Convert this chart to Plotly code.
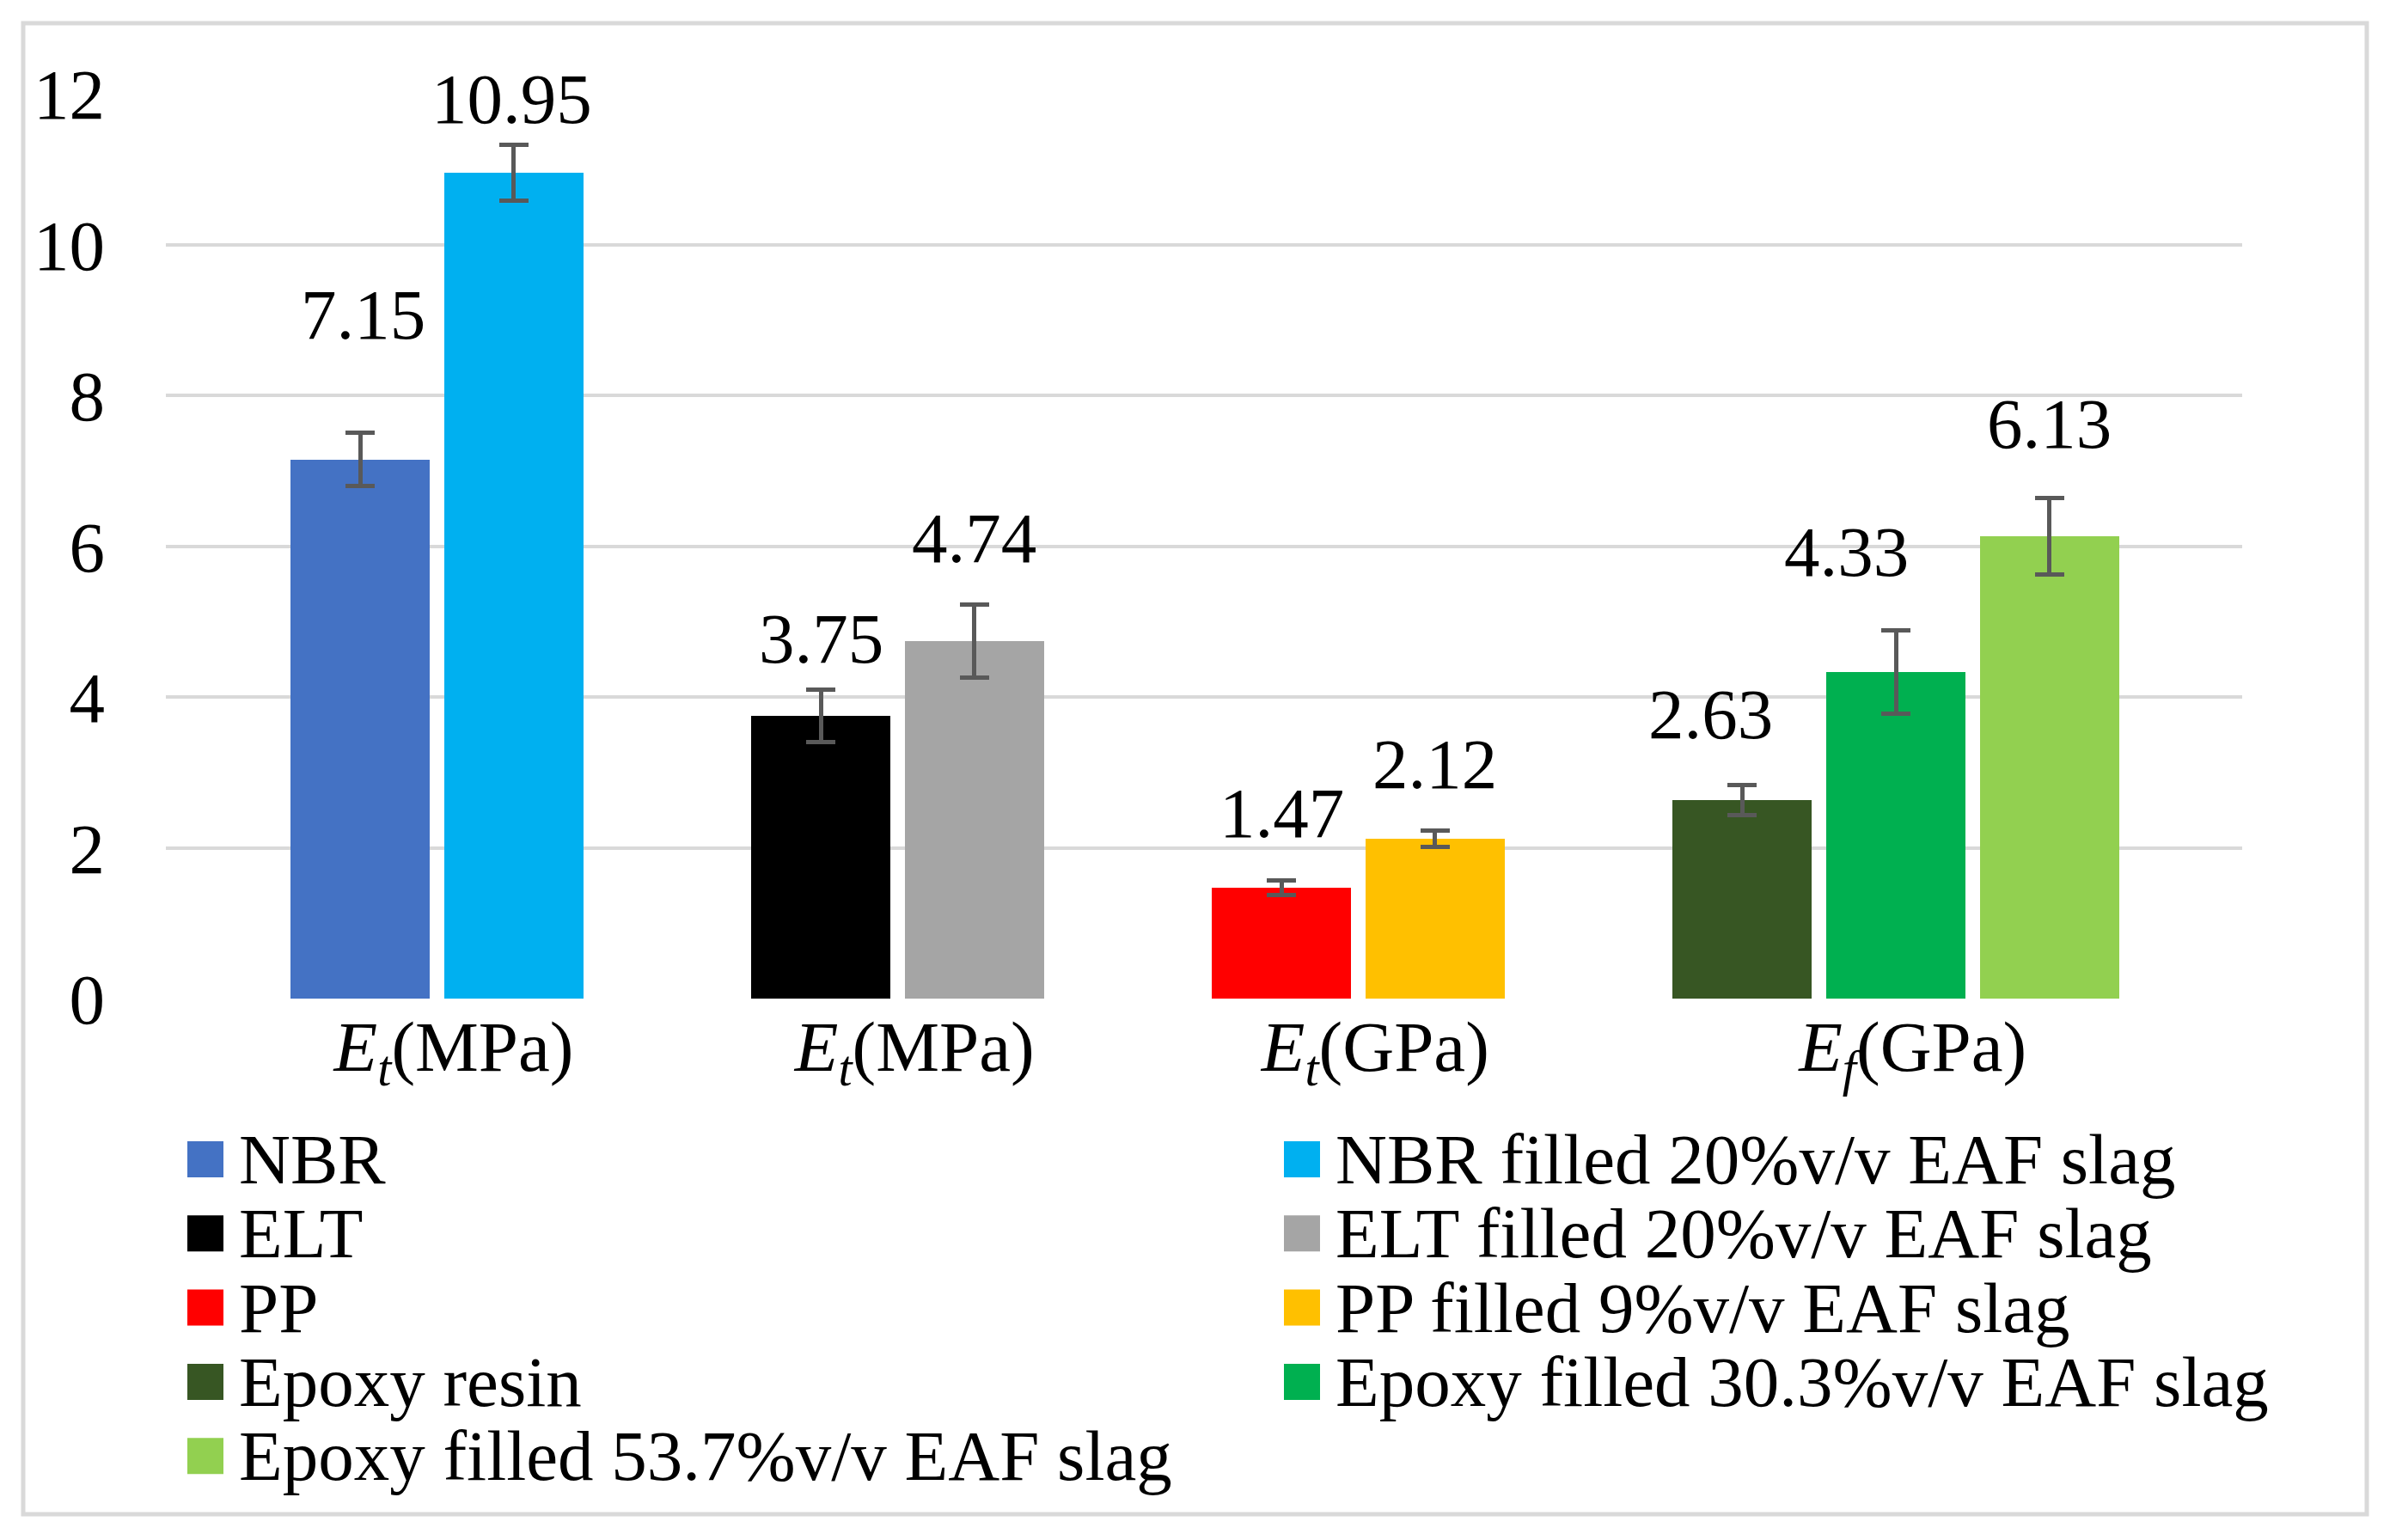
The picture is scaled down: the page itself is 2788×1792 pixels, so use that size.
import plotly.graph_objects as go

# ---------------- data ----------------
category_labels = [
    "<i>E</i><sub><i>t</i></sub>(MPa)",
    "<i>E</i><sub><i>t</i></sub>(MPa)",
    "<i>E</i><sub><i>t</i></sub>(GPa)",
    "<i>E</i><sub><i>f</i></sub>(GPa)",
]
series_names = [
    "NBR",
    "NBR filled 20%v/v EAF slag",
    "ELT",
    "ELT filled 20%v/v EAF slag",
    "PP",
    "PP filled 9%v/v EAF slag",
    "Epoxy resin",
    "Epoxy filled 30.3%v/v EAF slag",
    "Epoxy filled 53.7%v/v EAF slag",
]
series_group = [0, 0, 1, 1, 2, 2, 3, 3, 3]
series_values = [7.15, 10.95, 3.75, 4.74, 1.47, 2.12, 2.63, 4.33, 6.13]
series_errors = [0.35, 0.37, 0.35, 0.48, 0.10, 0.11, 0.20, 0.55, 0.51]
y_ticks = [0, 2, 4, 6, 8, 10, 12]

# ---------------- style ----------------
series_colors = ["#4472C4", "#00B0F0", "#000000", "#A5A5A5", "#FF0000",
                 "#FFC000", "#375623", "#00B050", "#92D050"]
FONT = "Liberation Serif"
FS = 83
W, H = 2788, 1792
PAGE_PAD = 8                                # default body margin of the html page
L, R, T, B = 193, 2609, 109, 1162          # plot area in page px
SLOTS_PER_GROUP = 3
BAR_WIDTH = 0.908
X_RANGE = [-1.265, 12.255]
CAT_LABEL_SHIFT = 0.11                      # category labels sit a bit right of bar groups
# per-label fine placement of the value labels (px)
label_dx_px = [3, -2, 0, 0, 0, 0, -37, -58, 0]
label_dy_px = [138, 54, 59, 78, 78, 77, 83, 92, 86]


def px_x(p):
    return (p - L) / (R - L)


def px_y(p):
    return (B - p) / (B - T)


# slot positions derived from group membership
slots = []
counter = {}
for g in series_group:
    j = counter.get(g, 0)
    counter[g] = j + 1
    slots.append(g * SLOTS_PER_GROUP + j)
group_centers = []
for g in range(len(category_labels)):
    s = [slots[i] for i in range(len(slots)) if series_group[i] == g]
    group_centers.append(sum(s) / len(s) + CAT_LABEL_SHIFT)

fig = go.Figure()
for i, name in enumerate(series_names):
    fig.add_trace(go.Bar(
        name=name,
        x=[slots[i]],
        y=[series_values[i]],
        width=BAR_WIDTH,
        marker=dict(color=series_colors[i], line=dict(width=0)),
        error_y=dict(type="data", array=[series_errors[i]], visible=True,
                     color="#595959", thickness=5, width=17),
        showlegend=False,
    ))

annotations = []
for i, v in enumerate(series_values):
    annotations.append(dict(
        x=slots[i], y=v + series_errors[i], xref="x", yref="y",
        text=f"{v:.2f}", showarrow=False, xanchor="center", yanchor="middle",
        xshift=label_dx_px[i], yshift=label_dy_px[i],
        font=dict(family=FONT, size=FS, color="#000000"),
    ))

# legend drawn as swatches + texts, two columns
LEG_COL_X = [218, 1494]
LEG_TEXT_GAP = 58
LEG_ROW0 = 1349
LEG_PITCH = 86.3
SW = 42
shapes = []
for i, name in enumerate(series_names):
    row, col = divmod(i, 2)
    cy = LEG_ROW0 + row * LEG_PITCH
    x0 = LEG_COL_X[col]
    shapes.append(dict(type="rect", xref="paper", yref="paper",
                       x0=px_x(x0), x1=px_x(x0 + SW),
                       y0=px_y(cy + SW / 2), y1=px_y(cy - SW / 2),
                       fillcolor=series_colors[i], line=dict(width=0)))
    annotations.append(dict(
        x=px_x(x0 + LEG_TEXT_GAP), y=px_y(cy), xref="paper", yref="paper",
        text=name, showarrow=False, xanchor="left", yanchor="middle",
        font=dict(family=FONT, size=FS, color="#000000"),
    ))

# outer chart border
shapes.append(dict(type="rect", xref="paper", yref="paper",
                   x0=px_x(27), x1=px_x(2754), y0=px_y(1762), y1=px_y(27),
                   line=dict(color="#D9D9D9", width=5), fillcolor="rgba(0,0,0,0)",
                   layer="below"))

fig.update_layout(
    width=W - 2 * PAGE_PAD, height=H - 2 * PAGE_PAD,
    margin=dict(l=L - PAGE_PAD, r=W - R - PAGE_PAD, t=T - PAGE_PAD,
                b=H - B - PAGE_PAD, pad=0),
    paper_bgcolor="white", plot_bgcolor="white",
    font=dict(family=FONT, size=FS, color="#000000"),
    bargap=0,
    xaxis=dict(range=X_RANGE, tickmode="array", tickvals=group_centers,
               ticktext=category_labels, showgrid=False, zeroline=False,
               showline=False, ticks="", ticklabelstandoff=0,
               tickfont=dict(family=FONT, size=FS, color="#000000")),
    yaxis=dict(range=[0, 12], tickmode="array", tickvals=y_ticks,
               showgrid=True, gridcolor="#D9D9D9", gridwidth=4,
               zeroline=False, showline=False, ticks="",
               ticklabelstandoff=70,
               tickfont=dict(family=FONT, size=FS, color="#000000")),
    annotations=annotations,
    shapes=shapes,
)

fig.write_html("out.html")
